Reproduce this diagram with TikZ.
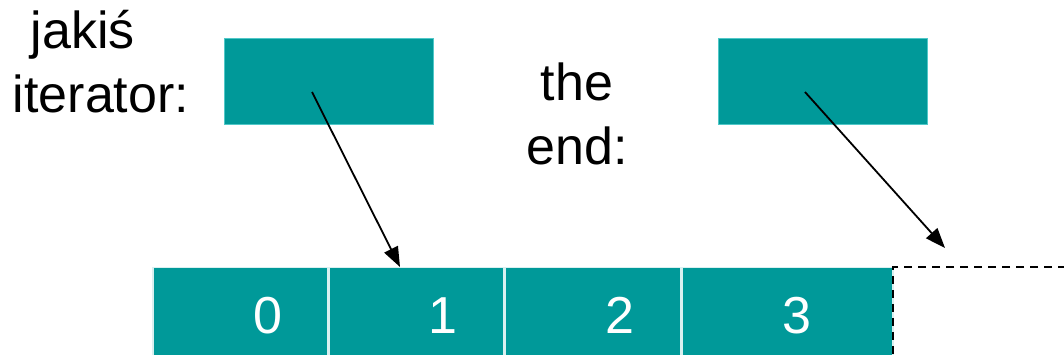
\documentclass[tikz,border=0pt]{standalone}
\usepackage{fontspec}
\setmainfont{Liberation Sans}
\usetikzlibrary{arrows.meta}
\definecolor{tealfill}{RGB}{0,153,153}
\definecolor{tealedge}{RGB}{80,200,200}
\tikzset{
  txt/.style={inner sep=0pt, font=\fontsize{52}{64}\selectfont, align=center},
  ptrbox/.style={draw=tealedge, line width=1pt, fill=tealfill, minimum width=209pt, minimum height=86pt, inner sep=0pt},
  cellbox/.style={draw=white!85!tealfill, line width=1.5pt, fill=tealfill, minimum height=88pt, inner sep=0pt},
  celltxt/.style={inner sep=0pt, text=white, font=\fontsize{52}{64}\selectfont},
  ptr/.style={line width=1.8pt, -{Triangle[length=20pt,width=15pt]}},
  endbox/.style={draw=black, line width=1.6pt, dash pattern=on 8pt off 6pt}
}
\begin{document}
\begin{tikzpicture}[x=1pt,y=-1pt]
\useasboundingbox (0,0) rectangle (1064,355);
% labels
\node[txt, anchor=base] (lab1) at (101,113) {jakiś\hspace*{36pt}\\iterator:};
\node[txt, anchor=base] (lab2) at (577,165) {the\\end:};
% pointer boxes
\node[ptrbox] (it) at (328.5,82) {};
\node[ptrbox] (en) at (822.5,82) {};
% cells
\node[cellbox, minimum width=175pt] (c0) at (240.5,311.5) {};
\node[cellbox, minimum width=175pt] (c1) at (416.5,311.5) {};
\node[cellbox, minimum width=175pt] (c2) at (593,311.5) {};
\node[cellbox, minimum width=211pt] (c3) at (787.5,311.5) {};
\node[celltxt, anchor=base] (t0) at (268,333) {0};
\node[celltxt, anchor=base] (t1) at (443,333) {1};
\node[celltxt, anchor=base] (t2) at (620,333) {2};
\node[celltxt, anchor=base] (t3) at (797,333) {3};
% past-the-end slot
\coordinate (e1) at (893,267);
\coordinate (e2) at (1080,356);
\draw[endbox] (e2 |- e1) -- (e1) -- (e1 |- e2) -- (e2);
% arrows
\coordinate (s1) at (312,92);
\coordinate (d1) at (400,267);
\coordinate (s2) at (805,92);
\coordinate (d2) at (945,248);
\draw[ptr] (s1) -- (d1);
\draw[ptr] (s2) -- (d2);
\end{tikzpicture}
\end{document}
